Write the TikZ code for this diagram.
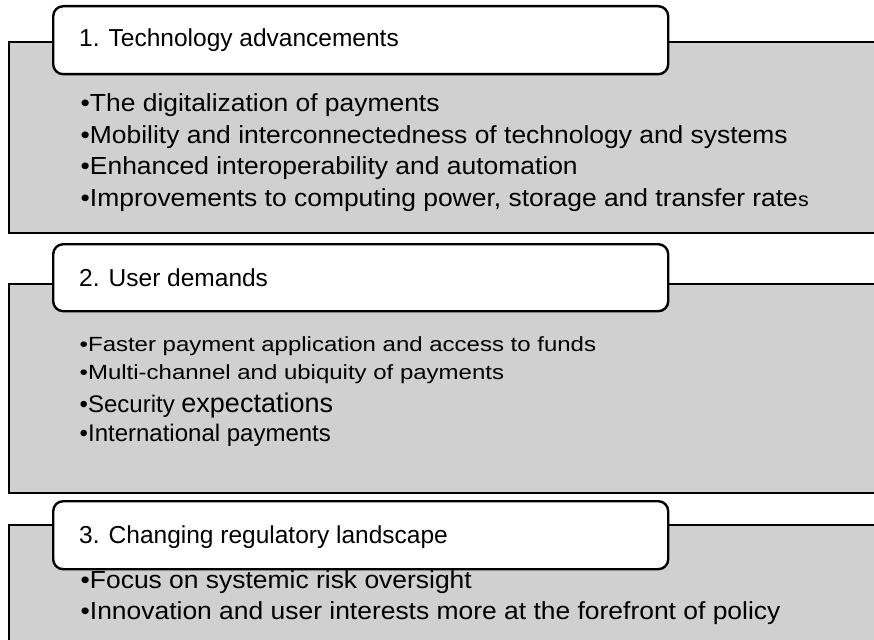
\documentclass[tikz,border=0pt]{standalone}
\usepackage{fontspec}
\setmainfont{Liberation Sans}
\newfontfamily\wideA[FakeStretch=1.07]{Liberation Sans}
\newfontfamily\wideB[FakeStretch=1.17]{Liberation Sans}
\definecolor{panelgray}{RGB}{208,208,208}
\begin{document}
\begin{tikzpicture}[x=1pt,y=-1pt,
  panel/.style={draw=black, line width=2.4pt, fill=panelgray, rectangle, inner sep=0pt, anchor=north west, minimum width=880pt},
  tabbox/.style={draw=black, line width=2.4pt, fill=white, rectangle, rounded corners=10pt, inner sep=0pt, anchor=north west, minimum width=615pt},
  ttl/.style={anchor=base west, inner sep=0pt, font=\fontsize{24.5}{28}\selectfont},
  itemA/.style={anchor=base west, inner sep=0pt, font=\wideA\fontsize{24.7}{28}\selectfont},
  itemB/.style={anchor=base west, inner sep=0pt, font=\wideB\fontsize{20.5}{24}\selectfont},
  itemC/.style={anchor=base west, inner sep=0pt, font=\fontsize{24}{28}\selectfont}]
\useasboundingbox (0,0) rectangle (874,639);
\begin{scope}
\clip (0,0) rectangle (874,639);
% panel 1
\node[panel, minimum height=191pt] (p1) at (8,41) {};
\node[tabbox, minimum height=68pt] (t1) at (52,5) {};
\node[ttl] (h1) at (79,47) {1. Technology advancements};
\node[itemA] (a1) at (80.5,112) {•The digitalization of payments};
\node[itemA] (a2) at (80.5,143) {•Mobility and interconnectedness of technology and systems};
\node[itemA] (a3) at (80.5,175) {•Enhanced interoperability and automation};
\node[itemA] (a4) at (80.5,206) {•Improvements to computing power, storage and transfer rate{\fontsize{20}{24}\selectfont s}};
% panel 2
\node[panel, minimum height=209pt] (p2) at (8,283) {};
\node[tabbox, minimum height=67pt] (t2) at (52,243) {};
\node[ttl] (h2) at (79,286) {2. User demands};
\node[itemB] (b1) at (79.5,351) {•Faster payment application and access to funds};
\node[itemB] (b2) at (79.5,379) {•Multi-channel and ubiquity of payments};
\node[itemC] (b3) at (79.5,412) {•Security {\fontsize{27}{30}\selectfont expectations}};
\node[itemC] (b4) at (79.5,441) {•International payments};
% panel 3
\node[panel, minimum height=140pt] (p3) at (8,524) {};
\node[tabbox, minimum height=68pt] (t3) at (52,500) {};
\node[ttl] (h3) at (79,543) {3. Changing regulatory landscape};
\node[itemA] (c1) at (80.5,588) {•Focus on systemic risk oversight};
\node[itemA] (c2) at (80.5,619) {•Innovation and user interests more at the forefront of policy};
\end{scope}
\end{tikzpicture}
\end{document}
